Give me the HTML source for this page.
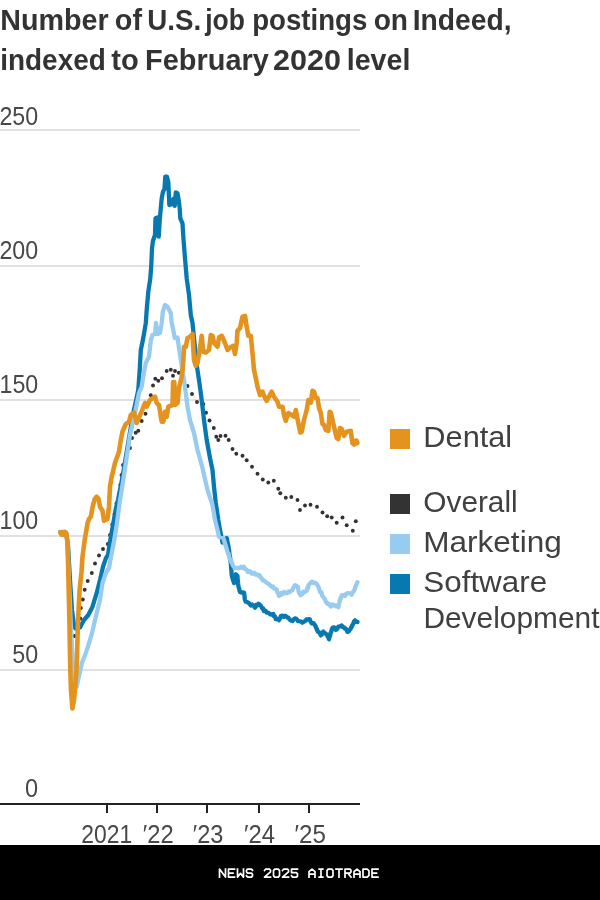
<!DOCTYPE html>
<html><head><meta charset="utf-8"><title>Chart</title>
<style>
html,body{margin:0;padding:0;background:#fff;}
body{width:600px;height:900px;overflow:hidden;font-family:"Liberation Sans",sans-serif;}
svg{display:block;will-change:transform;}
text{font-family:"Liberation Sans",sans-serif;}
</style></head><body>
<svg width="600" height="900" viewBox="0 0 600 900">
<rect x="0" y="0" width="600" height="900" fill="#fff"/>
<text transform="translate(0.34,29.8) scale(0.9688,1)" style="font-family:'Liberation Sans'" font-size="29.6" font-weight="bold" fill="#333">Number</text>
<text transform="translate(114.85,29.8) scale(0.9706,1)" style="font-family:'Liberation Sans'" font-size="29.6" font-weight="bold" fill="#333">of</text>
<text transform="translate(147.34,29.8) scale(0.9363,1)" style="font-family:'Liberation Sans'" font-size="29.6" font-weight="bold" fill="#333">U.S.</text>
<text transform="translate(205.20,29.8) scale(0.8933,1)" style="font-family:'Liberation Sans'" font-size="29.6" font-weight="bold" fill="#333">job</text>
<text transform="translate(252.20,29.8) scale(0.9336,1)" style="font-family:'Liberation Sans'" font-size="29.6" font-weight="bold" fill="#333">postings</text>
<text transform="translate(373.68,29.8) scale(0.9502,1)" style="font-family:'Liberation Sans'" font-size="29.6" font-weight="bold" fill="#333">on</text>
<text transform="translate(412.66,29.8) scale(0.9554,1)" style="font-family:'Liberation Sans'" font-size="29.6" font-weight="bold" fill="#333">Indeed,</text>
<text transform="translate(0.24,69.5) scale(0.9435,1)" style="font-family:'Liberation Sans'" font-size="29.6" font-weight="bold" fill="#333">indexed</text>
<text transform="translate(111.31,69.5) scale(0.9814,1)" style="font-family:'Liberation Sans'" font-size="29.6" font-weight="bold" fill="#333">to</text>
<text transform="translate(145.12,69.5) scale(0.9766,1)" style="font-family:'Liberation Sans'" font-size="29.6" font-weight="bold" fill="#333">February</text>
<text transform="translate(272.93,69.5) scale(1.0324,1)" style="font-family:'Liberation Sans'" font-size="29.6" font-weight="bold" fill="#333">2020</text>
<text transform="translate(346.80,69.5) scale(0.9657,1)" style="font-family:'Liberation Sans'" font-size="29.6" font-weight="bold" fill="#333">level</text>
<rect x="0" y="129" width="360" height="2" fill="#e1e1e1"/>
<rect x="0" y="265" width="360" height="2" fill="#e1e1e1"/>
<rect x="0" y="399" width="360" height="2" fill="#e1e1e1"/>
<rect x="0" y="535" width="360" height="2" fill="#e1e1e1"/>
<rect x="0" y="669" width="360" height="2" fill="#e1e1e1"/>
<text transform="translate(-0.56,124.8) scale(0.8934,1)" style="font-family:'Liberation Sans'" font-size="26" font-weight="normal" fill="#484848">250</text>
<text transform="translate(-0.56,258.6) scale(0.8934,1)" style="font-family:'Liberation Sans'" font-size="26" font-weight="normal" fill="#484848">200</text>
<text transform="translate(-0.49,393) scale(0.8917,1)" style="font-family:'Liberation Sans'" font-size="26" font-weight="normal" fill="#484848">150</text>
<text transform="translate(-0.49,528.8) scale(0.8917,1)" style="font-family:'Liberation Sans'" font-size="26" font-weight="normal" fill="#484848">100</text>
<text transform="translate(12.27,663) scale(0.8956,1)" style="font-family:'Liberation Sans'" font-size="26" font-weight="normal" fill="#484848">50</text>
<text transform="translate(25.06,797) scale(0.9054,1)" style="font-family:'Liberation Sans'" font-size="26" font-weight="normal" fill="#484848">0</text>
<g fill="#333"><circle cx="71.7" cy="628" r="1.95"/><circle cx="74.5" cy="636" r="1.95"/><circle cx="80.3" cy="618.5" r="1.95"/><circle cx="80.8" cy="608" r="1.95"/><circle cx="82.8" cy="599.5" r="1.95"/><circle cx="84.7" cy="589.7" r="1.95"/><circle cx="87.7" cy="581" r="1.95"/><circle cx="91.8" cy="573" r="1.95"/><circle cx="95" cy="563.5" r="1.95"/><circle cx="99" cy="555.5" r="1.95"/><circle cx="103" cy="549" r="1.95"/><circle cx="107.8" cy="544" r="1.95"/><circle cx="110" cy="535" r="1.95"/><circle cx="112.3" cy="524.5" r="1.95"/><circle cx="114.5" cy="514" r="1.95"/><circle cx="116.5" cy="503.5" r="1.95"/><circle cx="119" cy="494" r="1.95"/><circle cx="120.3" cy="485" r="1.95"/><circle cx="121.5" cy="475" r="1.95"/><circle cx="123" cy="465" r="1.95"/><circle cx="126" cy="456" r="1.95"/><circle cx="130" cy="448" r="1.95"/><circle cx="132" cy="438" r="1.95"/><circle cx="135.7" cy="432.7" r="1.95"/><circle cx="138.3" cy="430.7" r="1.95"/><circle cx="141.7" cy="421" r="1.95"/><circle cx="145.5" cy="413.7" r="1.95"/><circle cx="150.8" cy="395.3" r="1.95"/><circle cx="153" cy="385.5" r="1.95"/><circle cx="155.3" cy="378.8" r="1.95"/><circle cx="158.3" cy="380.8" r="1.95"/><circle cx="162" cy="378.3" r="1.95"/><circle cx="166.7" cy="371" r="1.95"/><circle cx="170.8" cy="369.7" r="1.95"/><circle cx="173" cy="375.8" r="1.95"/><circle cx="175" cy="371" r="1.95"/><circle cx="178.8" cy="372.8" r="1.95"/><circle cx="187.5" cy="386" r="1.95"/><circle cx="192" cy="394" r="1.95"/><circle cx="197" cy="402" r="1.95"/><circle cx="203.3" cy="404" r="1.95"/><circle cx="206" cy="412.8" r="1.95"/><circle cx="209.5" cy="420.5" r="1.95"/><circle cx="213.8" cy="428" r="1.95"/><circle cx="216.3" cy="436.7" r="1.95"/><circle cx="218.3" cy="440" r="1.95"/><circle cx="220.5" cy="436" r="1.95"/><circle cx="225.5" cy="435.8" r="1.95"/><circle cx="228.7" cy="440" r="1.95"/><circle cx="232.5" cy="449" r="1.95"/><circle cx="236.3" cy="453.8" r="1.95"/><circle cx="242.5" cy="455.8" r="1.95"/><circle cx="246.7" cy="460.3" r="1.95"/><circle cx="252" cy="466.7" r="1.95"/><circle cx="257.5" cy="473.7" r="1.95"/><circle cx="262.8" cy="479.5" r="1.95"/><circle cx="268.3" cy="482.5" r="1.95"/><circle cx="273.8" cy="480.8" r="1.95"/><circle cx="278.3" cy="488.8" r="1.95"/><circle cx="280.3" cy="493.3" r="1.95"/><circle cx="285.8" cy="497.8" r="1.95"/><circle cx="291.3" cy="497" r="1.95"/><circle cx="297.5" cy="500" r="1.95"/><circle cx="300" cy="510" r="1.95"/><circle cx="305" cy="505.5" r="1.95"/><circle cx="310.5" cy="504.7" r="1.95"/><circle cx="317" cy="506.7" r="1.95"/><circle cx="322.5" cy="512.5" r="1.95"/><circle cx="327.2" cy="516.2" r="1.95"/><circle cx="331.7" cy="517.5" r="1.95"/><circle cx="336.7" cy="522.8" r="1.95"/><circle cx="342.5" cy="517.5" r="1.95"/><circle cx="346.7" cy="525.3" r="1.95"/><circle cx="352.8" cy="530.8" r="1.95"/><circle cx="355.8" cy="521.2" r="1.95"/></g>
<path d="M60.0,532.5 L66.0,532.5 L68.0,545.0 L70.0,580.0 L72.0,610.0 L74.0,625.0 L75.5,628.5 L80.0,627.5 L84.0,620.0 L88.3,615.0 L92.5,606.7 L96.7,593.0 L100.0,580.0 L103.0,566.7 L106.0,558.0 L108.0,555.0 L110.0,541.7 L113.0,525.0 L116.0,508.0 L118.0,500.0 L121.0,485.0 L124.0,468.0 L127.0,450.0 L130.0,432.0 L133.3,413.0 L138.3,390.0 L139.7,370.0 L140.8,350.0 L143.3,338.0 L145.8,323.0 L146.7,310.0 L148.3,291.7 L150.3,278.3 L151.3,265.0 L152.0,248.3 L153.0,240.8 L155.0,235.0 L155.5,218.3 L157.5,217.5 L158.7,236.7 L160.0,216.7 L161.7,198.3 L163.0,191.7 L164.5,189.0 L165.3,176.7 L167.0,176.7 L168.3,181.7 L169.3,205.0 L172.5,204.0 L173.3,199.0 L174.7,205.8 L175.8,192.5 L177.5,193.3 L178.8,200.8 L179.7,208.3 L180.3,218.3 L182.5,223.3 L183.3,236.7 L185.0,258.3 L186.7,278.3 L189.0,295.0 L190.8,315.0 L192.5,323.0 L195.0,348.0 L196.7,365.0 L199.0,380.0 L200.8,393.0 L202.5,406.7 L204.0,420.0 L206.7,440.0 L210.0,458.0 L212.5,470.0 L214.0,486.7 L215.8,503.0 L218.3,520.0 L220.0,530.0 L222.5,542.5 L226.7,538.0 L227.0,538.8 L227.2,540.8 L227.5,541.7 L227.7,543.5 L228.0,544.9 L228.2,545.1 L228.5,546.4 L228.7,549.3 L229.0,549.5 L229.2,550.8 L229.4,553.6 L229.5,553.8 L229.7,555.9 L229.9,556.5 L230.1,558.1 L230.3,558.4 L230.4,560.7 L230.6,562.4 L230.8,563.0 L230.9,564.8 L231.0,566.0 L231.1,566.1 L231.2,568.8 L231.3,569.8 L231.4,570.6 L231.5,571.4 L231.6,574.4 L231.7,574.9 L232.1,576.7 L232.5,578.3 L232.8,579.2 L233.2,580.8 L233.6,581.0 L234.0,583.1 L234.4,580.9 L234.7,580.4 L235.1,578.8 L235.4,575.7 L235.8,574.3 L237.5,576.1 L237.6,578.9 L237.7,579.2 L237.8,580.9 L238.0,581.5 L238.1,583.2 L238.2,584.3 L238.3,585.5 L238.7,587.4 L239.2,588.9 L239.6,591.0 L240.0,592.1 L241.3,592.6 L242.7,592.4 L244.0,592.7 L244.2,593.4 L244.3,593.8 L244.5,596.6 L244.7,598.2 L244.8,599.4 L245.0,600.1 L245.8,601.7 L246.7,601.9 L249.0,603.2 L249.9,604.3 L250.8,605.4 L252.1,604.5 L253.3,605.7 L255.0,607.7 L256.1,605.0 L257.2,605.5 L258.3,603.8 L259.4,604.2 L260.6,605.4 L261.7,607.2 L262.5,608.8 L263.2,608.5 L264.0,611.0 L265.4,610.6 L266.9,612.7 L268.3,612.7 L270.0,614.1 L271.6,614.6 L273.3,614.0 L273.9,616.2 L274.6,616.1 L275.2,616.9 L275.8,619.2 L277.4,619.0 L279.0,620.2 L279.6,619.2 L280.2,618.3 L280.8,616.0 L282.3,615.6 L283.8,617.0 L285.2,615.7 L286.7,616.7 L287.5,617.6 L288.4,617.7 L289.2,618.9 L290.0,620.0 L291.2,620.7 L292.5,621.0 L293.3,619.8 L294.2,618.8 L295.0,618.4 L296.0,618.6 L297.0,619.5 L298.0,621.1 L299.0,621.2 L300.7,621.3 L302.3,622.7 L304.0,621.7 L305.2,621.1 L306.5,619.4 L307.8,619.5 L309.0,619.2 L309.9,619.4 L310.8,621.9 L311.7,623.3 L313.4,623.1 L315.0,625.3 L315.6,626.2 L316.1,627.9 L316.6,628.5 L317.2,630.4 L317.8,631.7 L318.3,631.5 L319.6,632.9 L320.8,635.4 L321.6,634.8 L322.5,632.3 L323.3,631.6 L324.4,633.0 L325.6,633.5 L326.7,634.7 L327.5,636.0 L328.2,637.4 L329.0,639.2 L329.4,637.3 L329.8,636.2 L330.2,635.7 L330.5,632.9 L330.9,632.7 L331.3,631.8 L331.7,629.6 L332.5,627.8 L333.3,627.3 L334.1,627.3 L335.0,628.3 L335.8,629.9 L337.1,629.1 L338.3,626.7 L340.0,626.3 L341.7,625.5 L342.8,627.2 L343.9,627.1 L345.0,628.7 L345.8,628.6 L346.7,630.1 L347.5,632.0 L348.6,631.6 L349.7,629.8 L350.8,628.5 L351.3,627.0 L351.8,626.7 L352.3,624.8 L352.8,624.8 L353.3,623.7 L354.1,621.3 L355.0,620.4 L356.2,621.9 L357.5,622.0" fill="none" stroke="#0879B0" stroke-width="4.3" stroke-linejoin="round" stroke-linecap="round"/>
<path d="M60.0,532.5 L66.0,532.5 L67.5,545.0 L69.0,580.0 L71.0,630.0 L73.0,665.0 L75.0,683.0 L76.7,686.7 L79.0,676.0 L82.0,662.7 L86.7,650.7 L91.5,635.0 L95.8,616.7 L100.0,600.0 L102.5,583.0 L105.8,573.0 L109.0,568.0 L110.8,558.0 L114.0,541.7 L116.7,525.0 L118.3,513.0 L120.0,500.0 L122.0,488.0 L124.5,472.0 L127.0,455.0 L130.0,435.0 L135.0,413.0 L139.0,393.0 L141.7,386.7 L144.0,371.7 L145.8,363.0 L149.0,356.7 L150.8,340.0 L152.5,335.0 L155.0,334.0 L156.0,323.0 L157.5,334.0 L160.0,333.0 L161.7,323.0 L162.8,311.7 L165.0,305.0 L167.5,306.7 L170.8,313.0 L171.7,323.0 L173.3,330.0 L174.7,338.0 L177.5,337.5 L179.0,348.0 L180.8,360.0 L182.5,370.0 L184.0,380.0 L185.8,393.0 L187.5,406.7 L190.0,420.0 L194.0,433.0 L197.5,450.0 L202.5,468.0 L207.5,490.0 L212.5,505.0 L215.0,520.0 L217.5,530.0 L219.0,536.7 L223.3,538.0 L225.8,546.0 L226.2,547.5 L226.6,549.0 L227.0,550.3 L227.4,551.9 L227.8,552.7 L228.2,554.3 L228.6,553.8 L229.0,555.9 L229.5,558.3 L230.1,559.1 L230.6,561.0 L231.2,560.8 L231.7,562.9 L232.4,563.7 L233.0,565.5 L233.7,566.7 L234.3,566.8 L235.0,568.4 L236.7,567.8 L238.3,568.3 L239.7,568.0 L241.2,566.8 L242.6,568.1 L244.0,566.8 L244.9,568.8 L245.8,569.0 L246.7,569.8 L247.9,572.0 L249.2,571.1 L250.4,571.5 L251.7,573.5 L252.9,573.6 L254.2,572.8 L255.4,574.5 L256.7,574.1 L258.1,575.3 L259.4,575.2 L260.8,577.6 L261.6,578.1 L262.4,579.7 L263.2,580.6 L264.0,580.4 L265.2,581.6 L266.3,582.3 L267.5,583.3 L268.9,584.0 L270.3,585.4 L271.7,586.9 L272.9,586.5 L274.2,588.7 L275.4,588.9 L276.7,589.6 L277.3,592.1 L277.9,592.9 L278.4,594.0 L279.0,595.8 L280.2,595.3 L281.3,593.0 L282.5,594.0 L283.9,591.9 L285.4,593.2 L286.9,593.3 L288.3,591.5 L289.7,592.2 L291.1,590.6 L292.5,590.2 L293.3,587.6 L294.2,586.3 L295.0,585.2 L297.5,586.7 L297.9,586.7 L298.2,589.4 L298.6,591.3 L299.0,592.9 L299.8,593.4 L300.5,595.2 L301.4,594.5 L302.4,594.1 L303.3,591.7 L304.4,592.2 L305.6,591.4 L306.7,590.7 L307.3,587.8 L307.9,588.4 L308.4,585.4 L309.0,584.7 L309.9,583.6 L310.8,582.5 L312.2,581.6 L313.6,583.1 L315.0,582.6 L315.8,583.2 L316.7,584.3 L317.5,585.2 L318.2,586.3 L318.8,587.8 L319.5,590.2 L320.1,592.2 L320.8,591.8 L321.6,593.0 L322.4,596.2 L323.2,596.7 L324.0,597.8 L324.7,598.7 L325.4,600.6 L326.1,602.3 L326.8,602.7 L327.5,603.8 L329.1,604.0 L330.8,606.6 L332.4,604.5 L334.0,605.0 L335.4,606.2 L336.9,605.4 L338.3,607.2 L338.6,606.3 L339.0,604.3 L339.3,603.3 L339.7,600.6 L340.0,599.9 L340.5,598.1 L341.0,598.3 L341.5,596.0 L342.0,595.1 L342.5,595.0 L343.8,595.2 L345.0,596.0 L346.1,594.1 L347.2,593.3 L348.3,593.0 L349.4,593.3 L350.6,593.7 L351.7,594.8 L352.5,592.6 L353.3,591.5 L353.9,591.2 L354.6,589.7 L355.2,587.5 L355.8,585.8 L356.6,584.1 L357.5,582.2" fill="none" stroke="#97CCF0" stroke-width="4.3" stroke-linejoin="round" stroke-linecap="round"/>
<path d="M60.5,532.0 L61.5,534.7 L62.5,532.0 L63.7,534.7 L65.0,532.0 L66.3,533.5 L67.3,540.0 L68.0,560.0 L68.7,590.0 L69.4,620.0 L69.9,650.0 L70.3,670.0 L71.0,690.0 L72.4,708.5 L74.0,700.0 L75.0,689.0 L76.5,670.0 L77.2,650.0 L77.9,623.0 L79.6,590.0 L81.5,572.0 L82.5,556.7 L84.7,540.0 L87.5,523.3 L89.0,519.0 L90.8,516.7 L92.7,506.7 L94.5,499.5 L96.7,496.7 L98.5,499.0 L100.0,506.7 L102.5,510.8 L104.0,520.8 L107.5,519.0 L109.0,506.7 L110.0,486.7 L111.7,476.7 L115.0,463.0 L119.0,451.7 L120.8,440.0 L122.5,431.7 L125.8,424.0 L129.0,421.7 L130.8,415.0 L134.0,412.5 L136.7,423.0 L139.0,417.5 L141.0,413.0 L145.0,403.0 L146.7,406.7 L150.0,400.0 L155.0,396.7 L156.7,403.0 L159.0,405.0 L161.7,421.7 L163.3,421.7 L165.0,411.7 L166.7,416.7 L168.3,406.7 L172.5,405.0 L173.1,382.0 L174.3,382.0 L175.0,405.0 L177.5,403.0 L179.0,388.0 L181.7,376.7 L183.3,361.7 L184.0,346.7 L185.8,346.7 L187.5,338.0 L190.0,336.7 L192.5,334.0 L194.0,360.0 L195.8,365.8 L197.5,363.0 L200.0,348.0 L201.7,335.8 L203.3,351.7 L205.8,352.5 L209.0,350.0 L210.8,335.0 L212.5,335.8 L214.0,343.0 L217.5,346.7 L219.0,337.5 L221.7,335.8 L225.0,343.0 L227.5,350.0 L230.0,347.5 L233.3,345.8 L235.0,354.0 L236.7,343.0 L237.5,330.8 L240.0,328.0 L242.5,316.7 L245.0,315.8 L246.7,326.7 L248.3,335.8 L250.8,335.8 L252.5,353.0 L254.0,370.0 L255.8,378.0 L257.5,386.7 L260.0,395.0 L262.5,391.7 L265.0,398.0 L266.7,400.8 L269.0,396.7 L271.7,391.7 L274.0,396.7 L277.5,401.7 L279.0,406.7 L282.5,406.7 L284.0,415.0 L285.8,420.8 L288.3,413.0 L291.7,415.0 L294.0,416.7 L295.8,410.0 L298.3,423.0 L300.3,432.5 L301.7,431.7 L304.0,420.0 L306.7,410.0 L308.3,400.0 L310.8,402.5 L312.5,390.8 L314.0,391.7 L315.8,398.0 L317.5,398.0 L319.0,408.0 L320.8,413.0 L322.5,424.0 L324.0,425.0 L325.8,430.0 L328.3,430.8 L329.7,411.7 L330.8,412.5 L332.5,420.0 L334.0,426.7 L336.7,438.0 L338.3,439.0 L340.0,428.0 L341.7,429.0 L344.0,435.8 L346.7,431.7 L350.8,430.8 L352.3,443.0 L354.0,444.5 L355.0,441.0 L356.5,440.5 L357.3,443.0 L355.5,443.5" fill="none" stroke="#E4931F" stroke-width="4.6" stroke-linejoin="round" stroke-linecap="round"/>
<circle cx="356.3" cy="442" r="2.9" fill="#E4931F"/>
<rect x="0" y="803" width="360" height="2" fill="#222"/>
<rect x="106" y="804" width="2" height="9" fill="#222"/>
<rect x="156" y="804" width="2" height="9" fill="#222"/>
<rect x="206" y="804" width="2" height="9" fill="#222"/>
<rect x="258" y="804" width="2" height="9" fill="#222"/>
<rect x="308" y="804" width="2" height="9" fill="#222"/>
<text transform="translate(81.36,842.5) scale(0.8803,1)" style="font-family:'Liberation Sans'" font-size="26" font-weight="normal" fill="#484848">2021</text>
<text transform="translate(142.80,842.5) scale(0.9139,1)" style="font-family:'Liberation Sans'" font-size="26" font-weight="normal" fill="#484848">′22</text>
<text transform="translate(192.81,842.5) scale(0.9064,1)" style="font-family:'Liberation Sans'" font-size="26" font-weight="normal" fill="#484848">′23</text>
<text transform="translate(244.05,842.5) scale(0.9162,1)" style="font-family:'Liberation Sans'" font-size="26" font-weight="normal" fill="#484848">′24</text>
<text transform="translate(294.53,842.5) scale(0.9300,1)" style="font-family:'Liberation Sans'" font-size="26" font-weight="normal" fill="#484848">′25</text>
<rect x="390" y="429" width="20" height="20" fill="#E4931F"/>
<rect x="390" y="494" width="20" height="20" fill="#333333"/>
<rect x="390" y="534" width="20" height="20" fill="#97CCF0"/>
<rect x="390" y="574" width="20" height="20" fill="#0879B0"/>
<text transform="translate(423.34,447.3) scale(1.0602,1)" style="font-family:'Liberation Sans'" font-size="29" font-weight="normal" fill="#404040">Dental</text>
<text transform="translate(423.36,512) scale(1.0271,1)" style="font-family:'Liberation Sans'" font-size="29" font-weight="normal" fill="#404040">Overall</text>
<text transform="translate(423.28,551.5) scale(1.0877,1)" style="font-family:'Liberation Sans'" font-size="29" font-weight="normal" fill="#404040">Marketing</text>
<text transform="translate(423.29,591.5) scale(1.0823,1)" style="font-family:'Liberation Sans'" font-size="29" font-weight="normal" fill="#404040">Software</text>
<text transform="translate(423.41,628) scale(1.0306,1)" style="font-family:'Liberation Sans'" font-size="29" font-weight="normal" fill="#404040">Development</text>
<rect x="0" y="845" width="600" height="55" fill="#000"/>
<g fill="none" stroke="#fff" stroke-width="1.7" stroke-linejoin="round" stroke-linecap="square"><path transform="translate(219.50,869.1) scale(1,1.0)" d="M0,8 L0,0 L6,8 L6,0"/><path transform="translate(228.50,869.1) scale(1,1.0)" d="M6,0 L0,0 L0,8 L6,8 M0,4 L4.5,4"/><path transform="translate(237.50,869.1) scale(1,1.0)" d="M0,0 L0,8 L3,4.2 L6,8 L6,0"/><path transform="translate(246.50,869.1) scale(1,1.0)" d="M6,1.3 L5,0 L1,0 L0,1.2 L0,2.9 L1,4 L5,4 L6,5.1 L6,6.8 L5,8 L1,8 L0,6.7"/><path transform="translate(264.50,869.1) scale(1,1.0)" d="M0,1.5 L1,0 L5,0 L6,1.2 L6,2.8 L0,8 L6,8"/><path transform="translate(273.50,869.1) scale(1,1.0)" d="M1.2,0 L4.8,0 L6,1.5 L6,6.5 L4.8,8 L1.2,8 L0,6.5 L0,1.5 Z"/><path transform="translate(282.50,869.1) scale(1,1.0)" d="M0,1.5 L1,0 L5,0 L6,1.2 L6,2.8 L0,8 L6,8"/><path transform="translate(291.50,869.1) scale(1,1.0)" d="M6,0 L0,0 L0,3.6 L5,3.6 L6,4.8 L6,6.8 L5,8 L1,8 L0,6.7"/><path transform="translate(309.00,869.1) scale(1,1.0)" d="M0,8 L0,2.6 L3,0 L6,2.6 L6,8 M0,5 L6,5"/><path transform="translate(318.00,869.1) scale(1,1.0)" d="M1.2,0 L4.8,0 M3,0 L3,8 M1.2,8 L4.8,8"/><path transform="translate(327.00,869.1) scale(1,1.0)" d="M1.2,0 L4.8,0 L6,1.5 L6,6.5 L4.8,8 L1.2,8 L0,6.5 L0,1.5 Z"/><path transform="translate(336.00,869.1) scale(1,1.0)" d="M0,0 L6,0 M3,0 L3,8"/><path transform="translate(345.00,869.1) scale(1,1.0)" d="M0,8 L0,0 L5,0 L6,1.1 L6,2.9 L5,4 L0,4 M2.8,4 L6,8"/><path transform="translate(354.00,869.1) scale(1,1.0)" d="M0,8 L0,2.6 L3,0 L6,2.6 L6,8 M0,5 L6,5"/><path transform="translate(363.00,869.1) scale(1,1.0)" d="M0,0 L4.2,0 L6,1.8 L6,6.2 L4.2,8 L0,8 Z"/><path transform="translate(372.00,869.1) scale(1,1.0)" d="M6,0 L0,0 L0,8 L6,8 M0,4 L4.5,4"/></g>
</svg></body></html>
